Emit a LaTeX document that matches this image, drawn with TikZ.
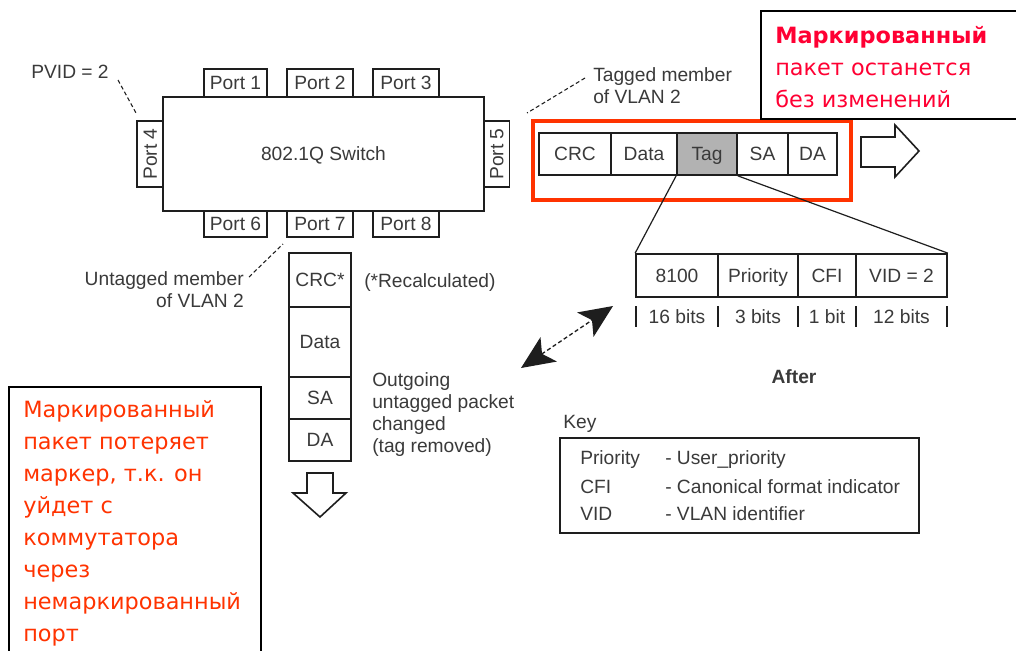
\documentclass[tikz,border=0pt]{standalone}
\usepackage{fontspec}
\setmainfont{Liberation Sans}
\newfontfamily\notefont{DejaVu Sans}
\usetikzlibrary{arrows.meta}
\definecolor{ink}{HTML}{3A3A3A}
\definecolor{frame}{HTML}{1E1E1E}
\definecolor{notered}{HTML}{FF0033}
\definecolor{noteorange}{HTML}{FF3300}
\definecolor{tagfill}{HTML}{B2B2B2}
\begin{document}
\begin{tikzpicture}[x=0.75pt,y=-0.75pt,
  lbl/.style={font=\fontsize{14.4}{16.5}\selectfont, text=ink, inner sep=0pt},
  cell/.style 2 args={draw=frame, line width=1.3pt, fill=white, lbl,
    text height=10.3pt, text depth=0pt,
    minimum width=#1*0.75pt, minimum height=#2*0.75pt},
  leader/.style={draw=frame, line width=0.8pt, densely dashed},
  hollow/.style={draw=frame, line width=1.2pt, fill=white, line join=miter},
  notebox/.style 2 args={draw=black, line width=1.2pt, fill=white, inner sep=0pt,
    minimum width=#1*0.75pt, minimum height=#2*0.75pt},
  notetext/.style={inner sep=0pt, align=left, anchor=north west,
    font=\notefont\fontsize{16.8}{24}\selectfont},
  bighead/.tip={Stealth[length=25pt,width=22pt,inset=6pt]}]
\useasboundingbox (0,0) rectangle (1016,650);
\clip (0,0) rectangle (1016,650);
\fill[white] (0,0) rectangle (1016,650);

% switch and its ports
\node[cell={63}{28}] (p1) at (235.5,83) {Port 1};
\node[cell={66}{28}] (p2) at (320,83) {Port 2};
\node[cell={66}{28}] (p3) at (406,83) {Port 3};
\node[cell={63}{26}] (p6) at (235.5,224) {Port 6};
\node[cell={66}{26}] (p7) at (320,224) {Port 7};
\node[cell={66}{26}] (p8) at (406,224) {Port 8};
\node[cell={66}{26}, rotate=90] (p4) at (150,154) {Port 4};
\node[cell={66}{26}, rotate=90] (p5) at (496.5,154) {Port 5};
\node[cell={321}{114}] (sw) at (323.5,154) {802.1Q Switch};

% port labels and leaders
\node[lbl] (pvid) at (70,72) {PVID = 2};
\coordinate (pvidA) at (118,80);
\coordinate (pvidB) at (136,113);
\draw[leader] (pvidA) -- (pvidB);

\node[lbl, align=left, anchor=west] (tagged) at (593,86) {Tagged member\\of VLAN 2};
\coordinate (tagA) at (585,78);
\coordinate (tagB) at (527,113);
\draw[leader] (tagA) -- (tagB);

\node[lbl, align=right, anchor=east] (untagged) at (244,290) {Untagged member\\of VLAN 2};
\coordinate (untA) at (249,277);
\coordinate (untB) at (283,244);
\draw[leader] (untA) -- (untB);

% tagged frame leaving port 5
\node[cell={72}{42}] (crc) at (575,154) {CRC};
\node[cell={66}{42}] (data) at (644,154) {Data};
\node[cell={60}{42}, fill=tagfill] (tag) at (707,154) {Tag};
\node[cell={51}{42}] (sa) at (762.5,154) {SA};
\node[cell={49}{42}] (da) at (812.5,154) {DA};
\node[draw=noteorange, line width=2.4pt, inner sep=0pt,
  minimum width=318*0.75pt, minimum height=79*0.75pt] (hl) at (692,160.5) {};
\draw[hollow] (861,137) -- (895,137) -- (895,125) -- (919,151)
  -- (895,177) -- (895,167) -- (861,167) -- cycle;

% tag field breakdown
\node[cell={82}{43}] (f8100) at (677,275.5) {8100};
\node[cell={80}{43}] (fprio) at (758,275.5) {Priority};
\node[cell={58}{43}] (fcfi) at (827,275.5) {CFI};
\node[cell={91}{43}] (fvid) at (901.5,275.5) {VID = 2};
\draw[frame, line width=0.9pt] (tag.south west) -- (f8100.north west);
\draw[frame, line width=0.9pt] (tag.south east) -- (fvid.north east);

\foreach \x in {636,718,798,856,947}
  \draw[frame, line width=1.1pt] (\x,306) -- (\x,327);
\node[lbl] (b16) at (677,317) {16 bits};
\node[lbl] (b3) at (758,317) {3 bits};
\node[lbl] (b1) at (827,317) {1 bit};
\node[lbl] (b12) at (901.5,317) {12 bits};

\node[lbl, font=\fontsize{14.4}{16.5}\selectfont\bfseries] (after) at (794,377) {After};

% key
\node[lbl, anchor=west] (keyt) at (563,424) {Key};
\node[cell={359}{95}] (key) at (739.5,485.5) {};
\node[lbl, anchor=west] (k1) at (580,460) {Priority};
\node[lbl, anchor=west] (k2) at (580,487) {CFI};
\node[lbl, anchor=west] (k3) at (580,514) {VID};
\node[lbl, anchor=west] (d1) at (665,460) {- User\_priority};
\node[lbl, anchor=west] (d2) at (665,487) {- Canonical format indicator};
\node[lbl, anchor=west] (d3) at (665,514) {- VLAN identifier};

% double-headed link between the two frames
\coordinate (lnkA) at (613,306);
\coordinate (lnkB) at (521,368);
\draw[frame, line width=1pt, densely dashed, bighead-bighead] (lnkB) -- (lnkA);

% untagged frame leaving port 7
\node[cell={62}{54}] (ucrc) at (320,280) {CRC*};
\node[cell={62}{70}] (udata) at (320,342) {Data};
\node[cell={62}{42}] (usa) at (320,398) {SA};
\node[cell={62}{42}] (uda) at (320,440) {DA};
\node[lbl, anchor=west] (recalc) at (364,283) {(*Recalculated)};
\node[lbl, align=left, anchor=north west, font=\fontsize{14.4}{16.5}\selectfont]
  (outgoing) at (372,372) {Outgoing\\untagged packet\\changed\\(tag removed)};
\draw[hollow] (307,473) -- (333,473) -- (333,493) -- (346,493) -- (320,517)
  -- (293,493) -- (307,493) -- cycle;

% notes
\node[notebox={269}{108}] (note1) at (895.5,65) {};
\node[notetext, text=notered] (note1t) at (775,26)
  {{\bfseries Маркированный}\\пакет останется\\без изменений};
\node[notebox={252}{273}] (note2) at (135,523.5) {};
\node[notetext, text=noteorange] (note2t) at (23,400)
  {Маркированный\\пакет потеряет\\маркер, т.к. он\\уйдет с\\коммутатора\\через\\немаркированный\\порт};
\end{tikzpicture}
\end{document}
